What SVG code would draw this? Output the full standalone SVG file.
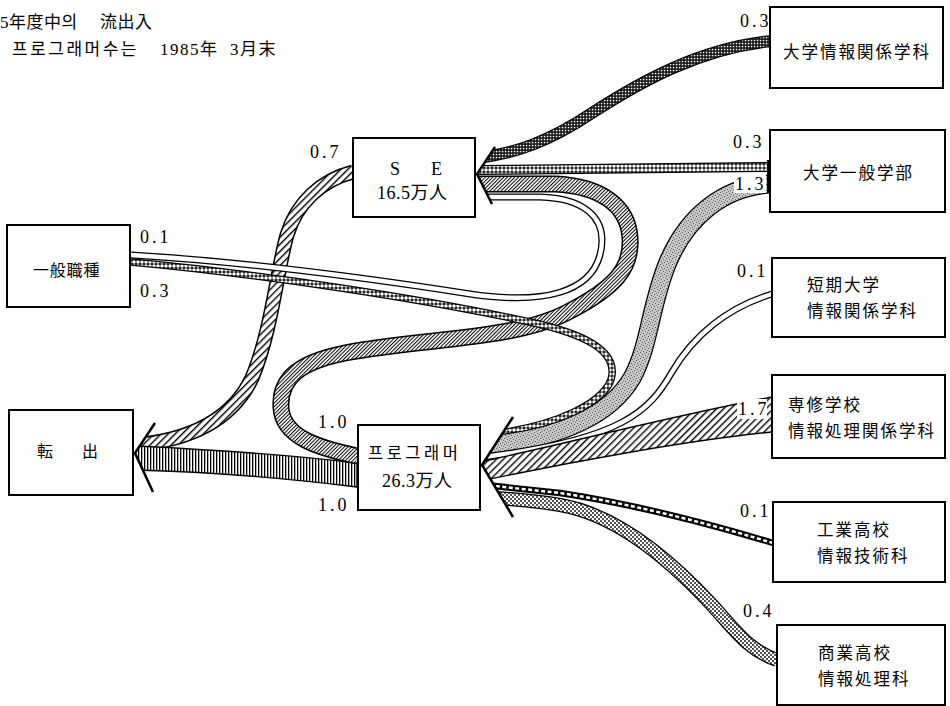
<svg xmlns="http://www.w3.org/2000/svg" width="950" height="706" viewBox="0 0 950 706">
<style>
text{font-family:"Liberation Serif","Noto Sans CJK JP",serif;fill:#000}
.jp{font-size:16.5px;letter-spacing:2px}
.num{font-size:18px;letter-spacing:3px}
.box{fill:#fff;stroke:#000;stroke-width:2}
.e{fill:none;stroke:#000}
.chev{fill:none;stroke:#000;stroke-width:2.5;stroke-linejoin:miter}
.mask{fill:#fff}
</style>
<defs>
<pattern id="pDark" width="3" height="3" patternUnits="userSpaceOnUse"><rect width="3" height="3" fill="#111"/><rect x="0.8" y="0.8" width="1.5" height="1.5" fill="#fff"/></pattern>
<pattern id="pRing" width="4" height="4" patternUnits="userSpaceOnUse"><rect width="4" height="4" fill="#111"/><circle cx="2" cy="2" r="1.75" fill="#fff"/></pattern>
<pattern id="pDot" width="4" height="4" patternUnits="userSpaceOnUse"><rect width="4" height="4" fill="#fff"/><circle cx="1" cy="1" r="0.9" fill="#000"/><circle cx="3" cy="3" r="0.9" fill="#000"/></pattern>
<pattern id="pFine" width="2.6" height="2.6" patternUnits="userSpaceOnUse" patternTransform="rotate(45)"><rect width="2.6" height="2.6" fill="#fff"/><rect x="0" y="0" width="1" height="2.6" fill="#000"/></pattern>
<pattern id="pCoarse" width="5" height="5" patternUnits="userSpaceOnUse" patternTransform="rotate(45)"><rect width="5" height="5" fill="#fff"/><rect x="0" y="0" width="1.4" height="5" fill="#000"/></pattern>
<pattern id="pStip" width="6" height="6" patternUnits="userSpaceOnUse"><rect width="6" height="6" fill="#c8c8c8"/><rect x="0" y="0" width="1" height="1" fill="#555"/><rect x="3" y="1" width="1" height="1" fill="#666"/><rect x="1" y="3" width="1" height="1" fill="#555"/><rect x="4" y="4" width="1" height="1" fill="#555"/><rect x="5" y="2" width="1" height="1" fill="#777"/><rect x="2" y="5" width="1" height="1" fill="#777"/></pattern>
<pattern id="pVert" width="3" height="3" patternUnits="userSpaceOnUse"><rect width="3" height="3" fill="#fff"/><rect x="0" width="1.3" height="3" fill="#000"/></pattern>
<path id="b1" d="M772,41 C700,48 640,82 592,113 C550,141 515,154 476,158"/>
<path id="b2" d="M772,167 L476,170"/>
<path id="b3" d="M357,456 C318,448 283,437 281,408 C279,378 300,362 345,353 C425,338 515,340 568,312 C615,288 632,268 630,238 C628,205 600,186 555,184 L476,184"/>
<path id="b4" d="M131,255 C250,262 380,280 470,294 C545,305 590,292 600,255 C610,215 580,198 540,197 L476,197"/>
<path id="b5" d="M131,262 C260,274 420,298 530,322 C585,334 615,350 612,375 C609,400 560,428 476,436"/>
<path id="b6" d="M772,184 C725,186 688,215 668,262 C650,305 650,345 632,378 C612,412 565,440 476,446"/>
<path id="b7" d="M772,294 C725,308 692,338 672,372 C650,410 625,440 476,458"/>
<path id="b9" d="M773,543 C720,527 640,505 560,493 L476,484"/>
<path id="b10" d="M777,660 C748,650 735,630 712,605 C675,565 620,515 560,505 C530,500 500,498 476,497"/>
<path id="b12" d="M353,172 C322,180 297,202 287,235 C277,270 272,330 252,378 C232,420 190,440 135,445"/>
</defs>

<g id="title">
<text style="font-size:17px;letter-spacing:0.5px"><tspan x="0" y="28">5年度中의</tspan><tspan x="100" y="28">流出入</tspan></text>
<text style="font-size:17px;letter-spacing:2.5px"><tspan x="12" y="55">프로그래머수는</tspan><tspan x="160" y="55" style="letter-spacing:1.5px">1985年</tspan><tspan x="230" y="55" style="letter-spacing:1.5px">3月末</tspan></text>
</g>

<g id="connectors">
<!-- SE -> 転出 0.7 -->
<use href="#b12" class="e" style="stroke-width:15"/>
<use href="#b12" style="fill:none;stroke:url(#pCoarse);stroke-width:12"/>
<!-- プログラマ -> 転出 1.0 -->
<path d="M135,446 C220,450 300,456 357,463 L357,487 C300,480 220,472 135,470 Z" fill="url(#pVert)" stroke="#000" stroke-width="1.4"/>
<!-- プログラマ -> SE 1.0 -->
<use href="#b3" class="e" style="stroke-width:17"/>
<use href="#b3" style="fill:none;stroke:url(#pFine);stroke-width:14"/>
<!-- 一般職種 -> SE 0.1 -->
<use href="#b4" class="e" style="stroke-width:7"/>
<use href="#b4" style="fill:none;stroke:#fff;stroke-width:4.4"/>
<!-- 一般職種 -> プログラマ 0.3 -->
<use href="#b5" class="e" style="stroke-width:7.5"/>
<use href="#b5" style="fill:none;stroke:url(#pRing);stroke-width:5"/>
<!-- 大学情報関係学科 -> SE 0.3 -->
<use href="#b1" class="e" style="stroke-width:12"/>
<use href="#b1" style="fill:none;stroke:url(#pDark);stroke-width:9.5"/>
<!-- 大学一般学部 -> SE 0.3 -->
<use href="#b2" class="e" style="stroke-width:10"/>
<use href="#b2" style="fill:none;stroke:url(#pRing);stroke-width:7.5"/>
<!-- 大学一般学部 -> プログラマ 1.3 -->
<use href="#b6" class="e" style="stroke-width:19"/>
<use href="#b6" style="fill:none;stroke:url(#pStip);stroke-width:16.5"/>
<!-- 短期大学 -> プログラマ 0.1 -->
<use href="#b7" class="e" style="stroke-width:7"/>
<use href="#b7" style="fill:none;stroke:#fff;stroke-width:4.4"/>
<!-- 専修学校 -> プログラマ 1.7 -->
<path d="M772,397 C690,412 580,440 476,463 L476,482 C570,462 690,440 772,432 Z" fill="url(#pCoarse)" stroke="#000" stroke-width="1.4"/>
<!-- 工業高校 -> プログラマ 0.1 -->
<use href="#b9" class="e" style="stroke-width:6.5"/>
<use href="#b9" style="fill:none;stroke:#fff;stroke-width:2.5;stroke-dasharray:4 2.5"/>
<!-- 商業高校 -> プログラマ 0.4 -->
<use href="#b10" class="e" style="stroke-width:14"/>
<use href="#b10" style="fill:none;stroke:url(#pDot);stroke-width:11.5"/>
<!-- arrowhead masks -->
<polygon class="mask" points="476,175 496,145 496,138 476,138"/>
<polygon class="mask" points="476,174 493,206 493,214 476,214"/>
<polygon class="mask" points="481,465 514,415 514,410 481,410"/>
<polygon class="mask" points="481,465 514,518 514,524 481,524"/>
<polygon class="mask" points="134,453 156,421 156,416 134,416"/>
<polygon class="mask" points="134,453 154,494 154,500 134,500"/>
</g>

<g id="node-se"><rect class="box" x="353" y="138" width="122" height="79"/>
<text style="font-size:18px"><tspan x="390" y="175">S</tspan><tspan x="431" y="175">E</tspan></text>
<text x="377" y="199" style="font-size:18px;letter-spacing:0.5px">16.5万人</text></g>

<g id="node-programmer"><rect class="box" x="358" y="425" width="122" height="85"/>
<text x="368" y="459" style="font-size:16.5px;letter-spacing:3.5px">프로그래머</text>
<text x="382" y="487" style="font-size:18px;letter-spacing:0.5px">26.3万人</text></g>

<g id="node-univ-info"><rect class="box" x="770" y="7" width="173" height="81"/>
<text class="jp" x="783" y="58">大学情報関係学科</text></g>

<g id="node-univ-general"><rect class="box" x="770" y="130" width="175" height="82"/>
<rect x="767" y="160" width="4" height="33" fill="#000"/>
<text class="jp" x="803" y="179">大学一般学部</text></g>

<g id="node-junior"><rect class="box" x="772" y="258" width="173" height="79"/>
<text class="jp" x="807" y="291">短期大学</text>
<text class="jp" x="807" y="317">情報関係学科</text></g>

<g id="node-senshu"><rect class="box" x="772" y="375" width="173" height="83"/>
<text class="jp" x="788" y="411">専修学校</text>
<text class="jp" x="788" y="437">情報処理関係学科</text></g>

<g id="node-kogyo"><rect class="box" x="773" y="502" width="172" height="80"/>
<text class="jp" x="817" y="536">工業高校</text>
<text class="jp" x="817" y="562">情報技術科</text></g>

<g id="node-shogyo"><rect class="box" x="777" y="625" width="168" height="80"/>
<text class="jp" x="818" y="659">商業高校</text>
<text class="jp" x="818" y="685">情報処理科</text></g>

<g id="node-general-job"><rect class="box" x="7" y="225" width="123" height="82"/>
<text x="33" y="276" style="font-size:16px;letter-spacing:0.8px">一般職種</text></g>

<g id="node-out"><rect class="box" x="9" y="410" width="124" height="85"/>
<text x="37" y="457" style="font-size:16px;letter-spacing:-1px">転　　出</text></g>

<g id="arrowheads">
<polyline class="chev" points="495,147 477,174 492,204"/>
<polyline class="chev" points="513,417 482,465 513,517"/>
<polyline class="chev" points="155,423 135,453 153,492"/>
</g>

<g id="labels">
<text class="num" x="310" y="158">0.7</text>
<text class="num" x="740" y="27">0.3</text>
<text class="num" x="733" y="148">0.3</text>
<rect x="734" y="173" width="32" height="20" fill="#fff"/>
<text class="num" x="735" y="190">1.3</text>
<text class="num" x="140" y="243">0.1</text>
<text class="num" x="140" y="297">0.3</text>
<text class="num" x="318" y="428">1.0</text>
<text class="num" x="318" y="511">1.0</text>
<text class="num" x="737" y="277">0.1</text>
<rect x="737" y="399" width="30" height="20" fill="#fff"/>
<text class="num" x="738" y="415">1.7</text>
<text class="num" x="740" y="517">0.1</text>
<text class="num" x="743" y="617">0.4</text>
</g>
</svg>
